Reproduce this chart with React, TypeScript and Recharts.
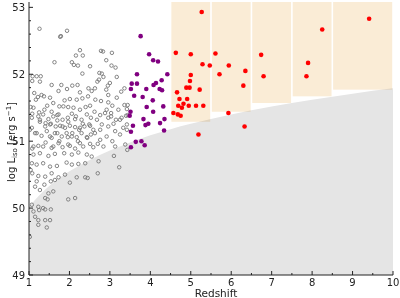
import { ComposedChart, XAxis, YAxis, Scatter, Area, ReferenceArea } from 'recharts';

// [redshift, log L_iso] for the low-z sample (open circles)
const grayBursts: [number, number][] = [
  [1.26, 52.68], [1.77, 52.56], [1.79, 52.57], [1.94, 52.65],
  [1.63, 52.18], [2.26, 52.36], [2.16, 52.28], [2.33, 52.28], [2.06, 52.18], [2.11, 52.14],
  [2.78, 52.35], [2.83, 52.34], [3.05, 52.32], [2.91, 52.21], [3.04, 52.13], [3.14, 52.1],
  [2.51, 52.12], [2.21, 52.13],
  [1.09, 51.97], [1.19, 51.97], [1.29, 51.97], [1.27, 51.89], [1.08, 51.9], [2.32, 52.01],
  [2.74, 52.02], [2.8, 52.01], [2.69, 51.89], [2.73, 51.92], [2.84, 51.96], [3.17, 51.96],
  [1.8, 51.84], [1.56, 51.84], [1.73, 51.75], [1.94, 51.78], [2.07, 51.83], [2.2, 51.84],
  [2.47, 51.79], [2.55, 51.75], [2.63, 51.79], [2.26, 51.73], [1.13, 51.72], [1.31, 51.69],
  [1.37, 51.67], [1.22, 51.66], [1.52, 51.65], [2.91, 51.77], [2.96, 51.69], [3.17, 51.65],
  [1.17, 51.62], [3.28, 51.74], [3.36, 51.79], [2.95, 51.83], [3.0, 51.87], [2.96, 51.58],
  [1.04, 51.51], [1.11, 51.5], [1.45, 51.53], [1.6, 51.57], [1.75, 51.52], [1.88, 51.61],
  [2.01, 51.63], [2.18, 51.62], [2.32, 51.64], [2.46, 51.67], [2.64, 51.62], [2.78, 51.6],
  [1.25, 51.43], [1.38, 51.47], [1.56, 51.44], [1.7, 51.39], [1.85, 51.52], [1.97, 51.51],
  [2.1, 51.5], [2.26, 51.47], [2.4, 51.51], [2.51, 51.53], [2.62, 51.44], [2.76, 51.39],
  [2.92, 51.47], [3.03, 51.42], [3.21, 51.47], [3.06, 51.53], [3.36, 51.54], [3.44, 51.54],
  [3.42, 51.48], [3.44, 51.39], [1.08, 51.41], [1.23, 51.37], [1.35, 51.4], [1.48, 51.33],
  [1.6, 51.37], [1.73, 51.4], [1.83, 51.32], [1.96, 51.35], [2.06, 51.41], [2.16, 51.37],
  [2.3, 51.32], [2.43, 51.4], [2.53, 51.35], [2.88, 51.42], [3.03, 51.37], [3.15, 51.32],
  [3.29, 51.35],
  [1.07, 51.35], [1.27, 51.32], [1.41, 51.27], [1.54, 51.26], [1.7, 51.31], [1.83, 51.22],
  [1.97, 51.29], [2.14, 51.33], [2.26, 51.2], [2.33, 51.26], [2.49, 51.25], [2.68, 51.32],
  [2.8, 51.25], [2.96, 51.35], [3.09, 51.26], [3.25, 51.32], [3.4, 51.38], [3.42, 51.17],
  [1.07, 51.2], [1.19, 51.12], [1.44, 51.15], [1.52, 51.07], [1.64, 51.12], [1.75, 51.0],
  [1.93, 51.12], [2.06, 51.07], [2.21, 51.0], [2.3, 51.12], [2.44, 51.05], [2.63, 51.12],
  [2.76, 51.02], [2.92, 51.07], [3.06, 51.0], [3.25, 51.1], [3.38, 50.95], [1.27, 51.29],
  [1.4, 51.22], [1.52, 51.25], [1.66, 51.22], [1.77, 51.23], [1.89, 51.2], [2.01, 51.23],
  [2.14, 51.21], [2.24, 51.17], [2.37, 51.22], [2.51, 51.23], [2.59, 51.17], [1.02, 51.17],
  [1.15, 51.12], [1.31, 51.08], [1.56, 51.05], [1.7, 51.12], [1.81, 51.07], [1.96, 51.06],
  [2.07, 51.12], [2.18, 51.06], [2.43, 51.06], [2.53, 51.1], [2.96, 51.22], [2.76, 51.17],
  [3.13, 51.15], [3.33, 51.2], [3.42, 51.25],
  [1.11, 50.92], [1.35, 50.92], [1.6, 50.92], [1.83, 50.91], [2.01, 50.93], [2.34, 50.92],
  [2.59, 50.91], [2.84, 50.92], [3.13, 50.92], [1.08, 50.89], [1.23, 50.93], [1.41, 50.98],
  [1.56, 50.9], [1.73, 50.97], [1.97, 50.95], [2.14, 50.89], [2.26, 50.97], [2.51, 50.96],
  [2.7, 50.96], [3.43, 50.87], [1.11, 50.8], [1.27, 50.82], [1.48, 50.78], [1.64, 50.81],
  [1.87, 50.82], [2.06, 50.8], [2.22, 50.83], [2.43, 50.8], [2.55, 50.77], [3.1, 50.78],
  [2.72, 50.7], [3.23, 50.61],
  [1.07, 50.67], [1.19, 50.65], [1.35, 50.67], [1.52, 50.62], [1.69, 50.63], [1.93, 50.68],
  [2.06, 50.65], [2.22, 50.66], [2.39, 50.67], [1.08, 50.52], [1.23, 50.48], [1.4, 50.47],
  [1.56, 50.52], [1.73, 50.46], [1.89, 50.5], [2.01, 50.38], [2.18, 50.46], [2.39, 50.46],
  [2.45, 50.45], [2.7, 50.52], [1.15, 50.32], [1.27, 50.27], [1.38, 50.35], [1.48, 50.22],
  [1.6, 50.25], [1.4, 50.15], [1.46, 50.13], [1.97, 50.13], [2.14, 50.15], [1.07, 50.05],
  [1.23, 50.02], [1.35, 50.0], [1.54, 49.98], [1.15, 49.87], [1.23, 49.82], [1.4, 49.82],
  [1.52, 49.82], [1.23, 49.75], [1.44, 49.71], [1.02, 49.57], [1.04, 50.57], [1.19, 50.4],
  [1.54, 50.4], [1.64, 50.42], [1.11, 49.95], [1.25, 49.97], [1.4, 49.98],
];

// intermediate-redshift sample (purple)
const purpleBursts: [number, number][] = [
  [3.76, 52.57], [3.97, 52.3], [4.07, 52.21], [4.19, 52.19], [3.67, 52.0], [3.54, 51.86],
  [3.67, 51.86], [3.52, 51.78], [3.6, 51.68], [3.9, 51.78], [4.08, 51.84], [4.14, 51.87],
  [4.28, 51.91], [4.42, 52.0], [4.23, 51.78], [4.29, 51.76], [3.81, 51.66], [4.06, 51.61],
  [3.91, 51.51], [4.32, 51.52], [3.51, 51.44], [4.07, 51.44], [3.83, 51.33], [4.35, 51.33],
  [3.57, 51.23], [3.88, 51.24], [3.95, 51.26], [4.24, 51.27], [4.34, 51.16], [3.52, 50.91],
  [3.64, 50.99], [3.78, 51.0], [3.86, 50.94], [3.49, 51.38], [3.52, 51.14],
];

// high-redshift sample (red)
const redBursts: [number, number][] = [
  [5.27, 52.93], [4.63, 52.32], [5.0, 52.3], [5.61, 52.31], [5.29, 52.15], [5.47, 52.13],
  [5.94, 52.13], [6.35, 52.05], [5.0, 51.99], [5.71, 52.0], [4.98, 51.9], [4.89, 51.8],
  [4.97, 51.8], [5.22, 51.77], [6.3, 51.83], [4.66, 51.73], [4.72, 51.63], [4.91, 51.63],
  [4.82, 51.56], [4.69, 51.53], [4.78, 51.5], [4.95, 51.53], [5.13, 51.53], [5.31, 51.53],
  [4.57, 51.42], [4.68, 51.4], [4.75, 51.38], [5.93, 51.42], [5.19, 51.1], [6.33, 51.22],
  [6.74, 52.29], [6.8, 51.97], [7.9, 52.17], [7.86, 51.97], [8.25, 52.67], [9.41, 52.83],
];

// flux limit: log L_iso along redshift
const limitZ = [1, 1.25, 1.5, 1.75, 2, 2.5, 3, 3.5, 4, 4.5, 5, 6, 7, 8, 9, 10];
const limitL = [50.02, 50.19, 50.33, 50.45, 50.55, 50.72, 50.86, 50.98, 51.09, 51.18, 51.26, 51.4, 51.52, 51.62, 51.71, 51.79];

// redshift bins and the luminosity floor of each one
const binStart = [4.5, 5.5, 6.5, 7.5, 8.5];
const binEnd = [5.5, 6.5, 7.5, 8.5, 10];
const binFloor = [51.29, 51.44, 51.57, 51.67, 51.77];

const xTicks = [1, 1.5, 2, 2.5, 3, 3.5, 4, 4.5, 5, 5.5, 6, 6.5, 7, 7.5, 8, 8.5, 9, 9.5, 10];
const yTicks = [
  49, 49.2, 49.4, 49.6, 49.8, 50, 50.2, 50.4, 50.6, 50.8, 51, 51.2, 51.4, 51.6, 51.8,
  52, 52.2, 52.4, 52.6, 52.8, 53,
];

const Y_MIN = 49;
const Y_MAX = 53.08;
const FONT = '"DejaVu Sans", sans-serif';
const INK = '#222';
const BIN_FILL = '#faecd6';
const LIMIT_FILL = '#e5e5e5';

const toPoints = (rows: [number, number][]) => rows.map(([z, L]) => ({ z, L }));
const limitData = limitZ.map((z, i) => ({ z, L: limitL[i] }));

const isMajor = (v: number) => Math.abs(v - Math.round(v)) < 1e-6;

function BottomTick({ x, y, payload }: any) {
  const major = isMajor(payload.value);
  return (
    <g>
      <line x1={x} x2={x} y1={y} y2={y - (major ? 4 : 2)} stroke={INK} />
      {major && (
        <text x={x} y={y + 11} textAnchor="middle" fontSize={10} fontFamily={FONT} fill={INK}>
          {Math.round(payload.value)}
        </text>
      )}
    </g>
  );
}

function TopTick({ x, y, payload }: any) {
  const major = isMajor(payload.value);
  return <line x1={x} x2={x} y1={y} y2={y + (major ? 4 : 2)} stroke={INK} />;
}

function LeftTick({ x, y, payload }: any) {
  const major = isMajor(payload.value);
  return (
    <g>
      <line x1={x} x2={x + (major ? 4 : 2)} y1={y} y2={y} stroke={INK} />
      {major && (
        <text x={x - 4} y={y} dy="0.35em" textAnchor="end" fontSize={10} fontFamily={FONT} fill={INK}>
          {Math.round(payload.value)}
        </text>
      )}
    </g>
  );
}

function RightTick({ x, y, payload }: any) {
  const major = isMajor(payload.value);
  return <line x1={x} x2={x - (major ? 4 : 2)} y1={y} y2={y} stroke={INK} />;
}

const binShape = (p: any) => (
  <rect
    x={p.x + 0.8}
    y={p.y}
    width={Math.max(p.width - 1.6, 0)}
    height={p.height}
    fill={BIN_FILL}
    style={{ mixBlendMode: 'multiply' }}
  />
);

const ring = (p: any) => (
  <circle cx={p.cx} cy={p.cy} r={1.75} fill="none" stroke="#777" strokeWidth={0.9} />
);
const disc = (color: string) => (p: any) => <circle cx={p.cx} cy={p.cy} r={2.3} fill={color} />;

export default function App() {
  return (
    <div style={{ position: 'absolute', left: 0, top: 0, width: 400, height: 298, background: '#fff' }}>
      <ComposedChart width={400} height={298} margin={{ top: 2, right: 7, bottom: 0, left: 0 }}>
        <XAxis
          dataKey="z"
          type="number"
          domain={[1, 10]}
          ticks={xTicks}
          interval={0}
          allowDataOverflow
          height={23}
          stroke={INK}
          tickSize={0}
          tickMargin={0}
          tickLine={false}
          tick={BottomTick}
          label={{
            content: () => (
              <text x={216} y={296.5} textAnchor="middle" fontSize={10.5} fontFamily={FONT} fill={INK}>
                Redshift
              </text>
            ),
          }}
        />
        <XAxis
          xAxisId="top"
          orientation="top"
          type="number"
          domain={[1, 10]}
          ticks={xTicks}
          interval={0}
          allowDataOverflow
          height={0}
          stroke={INK}
          tickSize={0}
          tickMargin={0}
          tickLine={false}
          tick={TopTick}
        />
        <YAxis
          dataKey="L"
          type="number"
          domain={[Y_MIN, Y_MAX]}
          ticks={yTicks}
          interval={0}
          allowDataOverflow
          width={29}
          stroke={INK}
          tickSize={0}
          tickMargin={0}
          tickLine={false}
          tick={LeftTick}
          label={{
            content: () => (
              <text
                x={15}
                y={142}
                transform="rotate(-90 15 142)"
                textAnchor="middle"
                fontSize={10}
                fontFamily={FONT}
                fill={INK}
              >
                log L
                <tspan fontSize={7} dy={2}>iso</tspan>
                <tspan dy={-2}> [erg s</tspan>
                <tspan fontSize={7} dy={-4}>−1</tspan>
                <tspan dy={4}>]</tspan>
              </text>
            ),
          }}
        />
        <YAxis
          yAxisId="right"
          orientation="right"
          type="number"
          domain={[Y_MIN, Y_MAX]}
          ticks={yTicks}
          interval={0}
          allowDataOverflow
          width={0}
          stroke={INK}
          tickSize={0}
          tickMargin={0}
          tickLine={false}
          tick={RightTick}
        />

        <Area
          data={limitData}
          dataKey="L"
          type="monotone"
          stroke="none"
          fill={LIMIT_FILL}
          fillOpacity={1}
          baseValue={Y_MIN}
          dot={false}
          activeDot={false}
          isAnimationActive={false}
          style={{ mixBlendMode: 'multiply' }}
        />

        {binStart.map((x1, i) => (
          <ReferenceArea
            key={x1}
            x1={x1}
            x2={binEnd[i]}
            y1={binFloor[i]}
            y2={Y_MAX}
            fill={BIN_FILL}
            fillOpacity={1}
            stroke="none"
            shape={binShape}
          />
        ))}

        <Scatter data={toPoints(grayBursts)} shape={ring} isAnimationActive={false} />
        <Scatter data={toPoints(purpleBursts)} shape={disc('#800080')} isAnimationActive={false} />
        <Scatter data={toPoints(redBursts)} shape={disc('#ff0000')} isAnimationActive={false} />
      </ComposedChart>
    </div>
  );
}
